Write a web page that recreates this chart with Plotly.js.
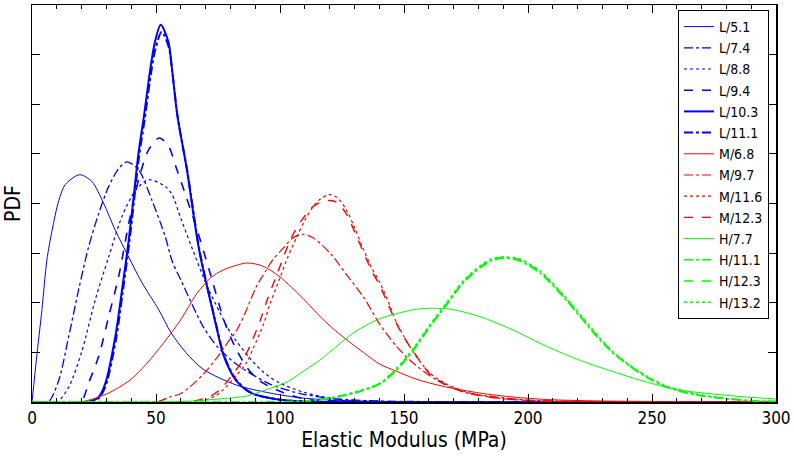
<!DOCTYPE html>
<html>
<head>
<meta charset="utf-8">
<script src="https://cdn.plot.ly/plotly-3.0.1.min.js"></script>
<style>
  body { margin: 0; background: #fff; }
  #chart { width: 794px; height: 456px; }
</style>
</head>
<body>
<div id="chart"></div>
<script>
// valeurs (x en MPa, y = densité)
const L51_x = [0, 2, 4, 6, 8.1, 10.8, 13.4, 19.2, 24.2, 28.9, 33.6, 39, 44.4, 51.1, 56, 62, 69, 82.5, 96, 109, 125, 150, 300];
const L51_y = [0, 0.0048, 0.0093, 0.0143, 0.0173, 0.0203, 0.0219, 0.0229, 0.0222, 0.0200, 0.0173, 0.0146, 0.0120, 0.0093, 0.0070, 0.0050, 0.0033, 0.0017, 0.0009, 0.0004, 0.00015, 0.00003, 0];

const L74_x = [0, 6.5, 10.8, 14.8, 18.8, 22.8, 26.9, 30.9, 34.9, 38.3, 43, 48.4, 53.8, 56.5, 60, 69, 75, 82.5, 96, 109, 123, 140, 300];
const L74_y = [0, 0, 0.0022, 0.0066, 0.0113, 0.0156, 0.0190, 0.0217, 0.0235, 0.0242, 0.0234, 0.0203, 0.0166, 0.0142, 0.0123, 0.0076, 0.0055, 0.0038, 0.0018, 0.0008, 0.0003, 0.0001, 0];

const L88_x = [0, 10, 14.8, 20.2, 25.5, 30.9, 36.3, 41.7, 47, 53.8, 56.5, 60, 64.4, 70.4, 75.8, 80, 87.9, 93.3, 100, 109.4, 120, 135, 300];
const L88_y = [0, 0, 0.0015, 0.0052, 0.0103, 0.0146, 0.0187, 0.0213, 0.0224, 0.0217, 0.0209, 0.0185, 0.0156, 0.0118, 0.0090, 0.0070, 0.0044, 0.0030, 0.0019, 0.0010, 0.0004, 0.0001, 0];

const L94_x = [0, 19.5, 22.8, 26.9, 30.9, 34.9, 39, 43, 47, 51.3, 55, 58.3, 62, 66.4, 71.8, 78, 83, 87.5, 92, 98.7, 110, 130, 300];
const L94_y = [0, 0, 0.0019, 0.0046, 0.0086, 0.0126, 0.0180, 0.0224, 0.0254, 0.0266, 0.0258, 0.0235, 0.0208, 0.0175, 0.0130, 0.0078, 0.0050, 0.0032, 0.0021, 0.0012, 0.0003, 0.00005, 0];

const L103_x = [0, 22.8, 26.9, 29.6, 33.6, 36.3, 39, 41, 43, 45.2, 47.9, 49.6, 51.9, 55, 56.3, 58.6, 62.4, 67.4, 73.4, 77.1, 80, 82.5, 87, 90.6, 101, 115, 300];
const L103_y = [0, 0, 0.0005, 0.0019, 0.0066, 0.0113, 0.0163, 0.0207, 0.0252, 0.0289, 0.0339, 0.0363, 0.0380, 0.0363, 0.0339, 0.0289, 0.0235, 0.0153, 0.0086, 0.0048, 0.0031, 0.0021, 0.0011, 0.0007, 0.0002, 0.00003, 0];

const L111_x = [0, 23, 27, 29.8, 33.8, 36.5, 39.2, 41.2, 43.2, 45.4, 48.1, 49.8, 52.3, 55.2, 56.5, 58.8, 62.6, 67.6, 73.6, 77.3, 80.2, 82.7, 87.2, 90.8, 101, 115, 300];
const L111_y = [0, 0, 0.0004, 0.0017, 0.0062, 0.0109, 0.0160, 0.0204, 0.0248, 0.0284, 0.0333, 0.0356, 0.0373, 0.0357, 0.0334, 0.0286, 0.0233, 0.0152, 0.0085, 0.0048, 0.0031, 0.0021, 0.0011, 0.0007, 0.0002, 0.00003, 0];

const M68_x = [0, 19.4, 30, 39.5, 46, 52.9, 60, 66.4, 72, 77.1, 86.6, 93, 100, 109.4, 117, 124.2, 133.6, 140.3, 147, 153.8, 160.5, 167.2, 180.6, 194, 207.5, 230, 300];
const M68_y = [0, 0, 0.0008, 0.0022, 0.0038, 0.0059, 0.0083, 0.0109, 0.0125, 0.0133, 0.0140, 0.0137, 0.0126, 0.0104, 0.0084, 0.0068, 0.0050, 0.0038, 0.0031, 0.0024, 0.0019, 0.0015, 0.0009, 0.0005, 0.00025, 0.0001, 0];

const M97_x = [0, 50, 55.6, 59.7, 64, 69.1, 75, 79.8, 82.5, 86, 90.6, 93.3, 97, 101.3, 105, 108.7, 113, 120.2, 126.9, 133.6, 140.3, 147, 153.8, 163.2, 173.9, 187.4, 200, 220, 300];
const M97_y = [0, 0, 0.0005, 0.0008, 0.0016, 0.0028, 0.0046, 0.0063, 0.0072, 0.0090, 0.0117, 0.0128, 0.0143, 0.0155, 0.0165, 0.0169, 0.0166, 0.0150, 0.0128, 0.0106, 0.0078, 0.0056, 0.0039, 0.0022, 0.0010, 0.0005, 0.0002, 0.00005, 0];

const M116_x = [0, 65, 73.1, 77, 82.5, 86.6, 89.2, 93.3, 96, 100, 103, 106.7, 110, 113.4, 116.5, 119.8, 123, 126.9, 130, 133.6, 137, 140.3, 143.5, 147, 150, 153.8, 160.5, 167.2, 176.6, 187.4, 200, 220, 300];
const M116_y = [0, 0, 0.0005, 0.0012, 0.0027, 0.0040, 0.0054, 0.0078, 0.0099, 0.0125, 0.0145, 0.0166, 0.0183, 0.0197, 0.0205, 0.0209, 0.0206, 0.0193, 0.0176, 0.0154, 0.0135, 0.0120, 0.0102, 0.0080, 0.0066, 0.0050, 0.0029, 0.0018, 0.0009, 0.0004, 0.00015, 0.00003, 0];

const M123_x = [0, 63, 72, 76, 81, 85, 88, 92, 95, 99, 102, 105.5, 109, 112.5, 116, 120.2, 123, 126.9, 130, 133.6, 137, 140.3, 143.5, 147, 150, 153.8, 160.5, 167.2, 176.6, 187.4, 200, 220, 300];
const M123_y = [0, 0, 0.0006, 0.0013, 0.0028, 0.0042, 0.0057, 0.0082, 0.0104, 0.0130, 0.0150, 0.0170, 0.0184, 0.0195, 0.0201, 0.0203, 0.0201, 0.0189, 0.0172, 0.0151, 0.0132, 0.0117, 0.0099, 0.0079, 0.0065, 0.0051, 0.0028, 0.0017, 0.00085, 0.0004, 0.00015, 0.00003, 0];

const H77_x = [0, 50, 65, 75, 86.6, 94, 102.7, 110, 116, 124.2, 131, 140.3, 147, 153.8, 160.5, 169.9, 180.6, 194, 207.5, 221, 234.4, 247.9, 261.3, 274.7, 288.2, 300];
const H77_y = [0, 0, 0.0001, 0.0003, 0.0006, 0.0012, 0.0020, 0.0032, 0.0042, 0.0059, 0.0072, 0.0084, 0.0089, 0.0093, 0.00945, 0.0093, 0.0086, 0.00725, 0.0056, 0.0042, 0.00305, 0.0020, 0.0012, 0.0008, 0.0005, 0.0003];

const H111_x = [0, 100, 110, 120, 130, 140.3, 147, 153.8, 160.5, 167.2, 173.9, 180.6, 185, 190, 196.8, 204.8, 214.2, 221, 227.7, 234.4, 241.1, 247.9, 255.9, 268, 281.5, 292, 300];
const H111_y = [0, 0, 0.0001, 0.00035, 0.0009, 0.0018, 0.0032, 0.0052, 0.0076, 0.0098, 0.0120, 0.0135, 0.0142, 0.0145, 0.0142, 0.0130, 0.0106, 0.0086, 0.0066, 0.0049, 0.0036, 0.0025, 0.0015, 0.0007, 0.0003, 0.0001, 0.00005];

const H123_x = [0, 100, 110, 120, 130, 140.3, 147, 153.8, 160.5, 167.2, 173.9, 180.6, 185, 190.5, 196.8, 204.8, 214.2, 221, 227.7, 234.4, 241.1, 247.9, 255.9, 268, 281.5, 292, 300];
const H123_y = [0, 0, 0.0001, 0.0004, 0.0009, 0.0019, 0.0033, 0.0053, 0.0077, 0.0099, 0.0121, 0.0136, 0.0143, 0.0146, 0.0143, 0.0131, 0.0107, 0.0087, 0.0067, 0.0050, 0.0036, 0.0025, 0.0015, 0.0007, 0.0003, 0.0001, 0.00005];

const H132_x = [0, 100, 110, 120, 130, 140.3, 147, 153.8, 160.5, 167.2, 173.9, 180.6, 185, 191, 196.8, 204.8, 214.2, 221, 227.7, 234.4, 241.1, 247.9, 255.9, 268, 281.5, 292, 300];
const H132_y = [0, 0, 0.0001, 0.0004, 0.0010, 0.0019, 0.0034, 0.0054, 0.0078, 0.0100, 0.0122, 0.0137, 0.0144, 0.0146, 0.0144, 0.0132, 0.0108, 0.0088, 0.0068, 0.0050, 0.0037, 0.0026, 0.0016, 0.0008, 0.0003, 0.0001, 0.00005];

const seriesNames = ['L/5.1', 'L/7.4', 'L/8.8', 'L/9.4', 'L/10.3', 'L/11.1',
                     'M/6.8', 'M/9.7', 'M/11.6', 'M/12.3',
                     'H/7.7', 'H/11.1', 'H/12.3', 'H/13.2'];
const seriesX = [L51_x, L74_x, L88_x, L94_x, L103_x, L111_x, M68_x, M97_x, M116_x, M123_x, H77_x, H111_x, H123_x, H132_x];
const seriesY = [L51_y, L74_y, L88_y, L94_y, L103_y, L111_y, M68_y, M97_y, M116_y, M123_y, H77_y, H111_y, H123_y, H132_y];

// style de chaque courbe : couleur, tirets, épaisseur
const colors = ['#0000ff', '#0000ff', '#0000ff', '#0000ff', '#0000ff', '#0000ff',
                '#ff0000', '#ff0000', '#ff0000', '#ff0000',
                '#00ff00', '#00ff00', '#00ff00', '#00ff00'];
const dashes = ['solid', 'dashdot', 'dot', 'dash', 'solid', 'dashdot',
                'solid', 'dashdot', 'dot', 'dash',
                'solid', 'dashdot', 'dash', 'dot'];
const widths = [1, 1.3, 1.2, 1.6, 2, 2, 1, 1.2, 1.2, 1.4, 1, 1.6, 1.6, 1.6];

const fontFamily = '"DejaVu Sans Condensed", "DejaVu Sans", Verdana, sans-serif';

let data = [];
for (let i = 0; i < seriesNames.length; i++)
{
  data.push({
    name: seriesNames[i],
    x: seriesX[i],
    y: seriesY[i],
    type: 'scatter',
    mode: 'lines',
    line: { color: colors[i], dash: dashes[i], width: widths[i], shape: 'spline', smoothing: 0.8 }
  });
}

let layout =
{
  width: 794,
  height: 456,
  margin: { l: 32, r: 18, t: 5, b: 54, pad: 0 },
  paper_bgcolor: '#fff',
  plot_bgcolor: '#fff',
  font: { family: fontFamily, color: '#000', size: 17 },
  showlegend: true,
  xaxis:
  {
    range: [0, 300],
    autorange: false,
    dtick: 50,
    ticks: 'inside',
    ticklen: 8,
    tickcolor: '#000',
    showline: true,
    linecolor: '#000',
    linewidth: 1.5,
    mirror: 'ticks',
    showgrid: false,
    zeroline: false,
    tickfont: { size: 17 },
    minor: { dtick: 10, ticks: 'inside', ticklen: 4, tickcolor: '#000', showgrid: false },
    title: { text: 'Elastic Modulus (MPa)', font: { size: 21 }, standoff: 4 }
  },
  yaxis:
  {
    range: [0, 0.04],
    autorange: false,
    dtick: 0.005,
    ticks: 'inside',
    ticklen: 8,
    tickcolor: '#000',
    showline: true,
    linecolor: '#000',
    linewidth: 1.5,
    mirror: 'ticks',
    showgrid: false,
    zeroline: false,
    showticklabels: false,
    title: { text: 'PDF', font: { size: 21 }, standoff: 4 }
  },
  legend:
  {
    x: 0.9906,
    xanchor: 'right',
    y: 0.9874,
    yanchor: 'top',
    bgcolor: '#fff',
    bordercolor: '#000',
    borderwidth: 1,
    font: { size: 14 },
    itemwidth: 30,
    tracegroupgap: 0
  }
};

Plotly.newPlot('chart', data, layout, { staticPlot: true });
</script>
</body>
</html>
